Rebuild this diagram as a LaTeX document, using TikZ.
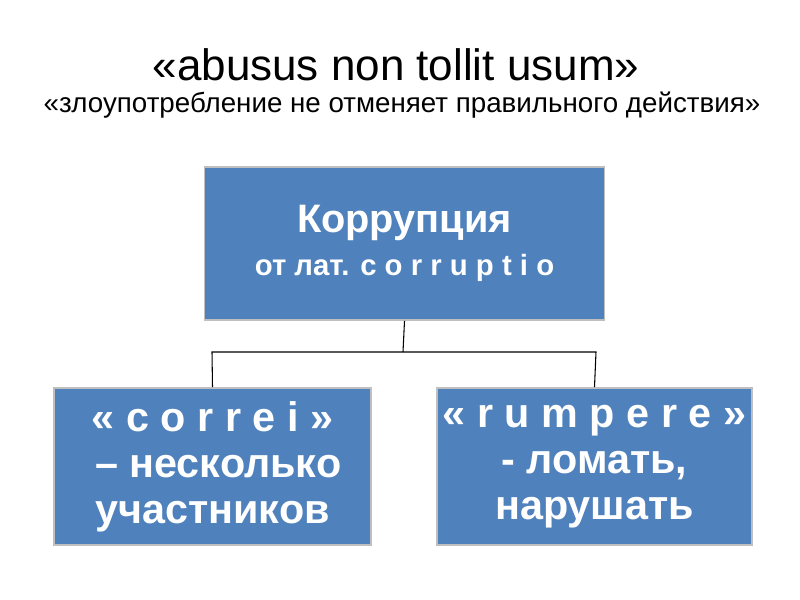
\documentclass[tikz,border=0pt]{standalone}
\usepackage{fontspec}
\setmainfont{Liberation Sans}
\begin{document}
\begin{tikzpicture}[x=0.75pt,y=-0.75pt,
  bx/.style={draw=white!75!black,line width=1.2pt,fill={rgb,255:red,79;green,129;blue,189},text=white,align=center,inner sep=0pt},
  bt/.style={bx,font=\bfseries\fontsize{31}{34.5}\selectfont},
  ln/.style={draw=black,line width=0.8pt}]
\useasboundingbox (0,0) rectangle (800,600);
\fill[white] (0,0) rectangle (800,600);
\node[font=\fontsize{33}{38}\selectfont] (t1) at (396,65) {«abusus non tollit usum»};
\node[font=\fontsize{20.8}{25}\selectfont] (t2) at (402,105) {«злоупотребление не отменяет правильного действия»};
\node[bx,font=\bfseries\fontsize{22}{32}\selectfont,minimum width=300pt,minimum height=115pt] (top) at (404.5,243.5) {{\fontsize{29.8}{32}\selectfont Коррупция}\\от лат. c o r r u p t i o};
\node[bt,minimum width=238pt,minimum height=118pt] (l) at (212.5,466.5) {« c o r r e i »\\\ – несколько\\участников};
\node[bt,minimum width=236pt,minimum height=118pt] (r) at (594.5,466.5) {« r u m p e r e »\\- ломать,\\нарушать};
\coordinate (m) at (403,352);
\draw[ln] (top.south) -- (m);
\draw[ln] (l.north) -- (212,352) -- (596,352) -- (r.north);
\end{tikzpicture}
\end{document}
